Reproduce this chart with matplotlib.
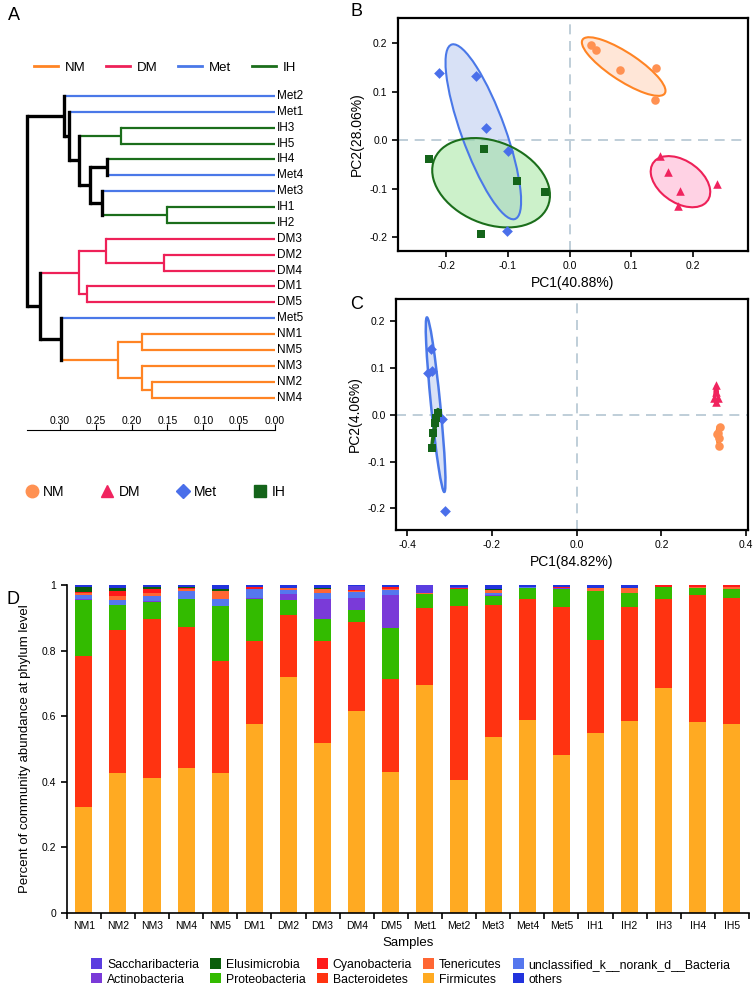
import numpy as np
import matplotlib
matplotlib.use('Agg')
import matplotlib.pyplot as plt
from matplotlib.patches import Ellipse, Patch
from matplotlib.lines import Line2D
from matplotlib.ticker import FormatStrFormatter

plt.rcParams['font.family'] = ['Liberation Sans', 'DejaVu Sans']
plt.rcParams['axes.unicode_minus'] = False

# ---- data ----
groups = ['NM', 'DM', 'Met', 'IH']
line_cols = ['#FF8424', '#EE2158', '#4A78E8', '#1B6E1B']
pt_cols = ['#FF9152', '#F0245F', '#4A6FEA', '#14641A']
fill_cols = ['#FFC9A8', '#FF9CC4', '#A9BEEC', '#8FE08A']
markers = ['o', '^', 'D', 's']

# hierarchical clustering tree: [height, left, right]
tree = [0.346,
        [0.294, 'Met2', [0.288, 'Met1',
                         [0.273, [0.215, 'IH3', 'IH5'],
                          [0.258, [0.235, 'IH4', 'Met4'],
                           [0.242, 'Met3', [0.150, 'IH1', 'IH2']]]]]],
        [0.328,
         [0.274, [0.236, 'DM3', [0.155, 'DM2', 'DM4']], [0.262, 'DM1', 'DM5']],
         [0.298, 'Met5', [0.219, [0.185, 'NM1', 'NM5'],
                          [0.185, 'NM3', [0.171, 'NM2', 'NM4']]]]]]

samples = ['NM1', 'NM2', 'NM3', 'NM4', 'NM5', 'DM1', 'DM2', 'DM3', 'DM4', 'DM5',
           'Met1', 'Met2', 'Met3', 'Met4', 'Met5', 'IH1', 'IH2', 'IH3', 'IH4', 'IH5']
sample_group = [0] * 5 + [1] * 5 + [2] * 5 + [3] * 5

# PCoA / PCA scores
b_pc1 = [0.035, 0.043, 0.082, 0.140, 0.138, 0.146, 0.159, 0.179, 0.175, 0.239,
         -0.211, -0.151, -0.135, -0.100, -0.102, -0.228, -0.139, -0.085, -0.040, -0.144]
b_pc2 = [0.197, 0.186, 0.144, 0.150, 0.083, -0.032, -0.065, -0.104, -0.135, -0.090,
         0.139, 0.132, 0.026, -0.022, -0.187, -0.039, -0.017, -0.083, -0.106, -0.192]
c_pc1 = [0.337, 0.333, 0.336, 0.336, 0.330, 0.329, 0.329, 0.325, 0.333, 0.329,
         -0.343, -0.351, -0.340, -0.318, -0.311, -0.327, -0.333, -0.339, -0.341, -0.331]
c_pc2 = [-0.025, -0.039, -0.050, -0.066, -0.040, 0.064, 0.050, 0.036, 0.036, 0.028,
         0.142, 0.089, 0.093, -0.009, -0.205, 0.005, -0.018, -0.039, -0.070, -0.007]

# phylum abundance (bottom to top)
firmicutes = [0.324, 0.426, 0.412, 0.442, 0.426, 0.575, 0.720, 0.519, 0.617, 0.430,
              0.695, 0.405, 0.537, 0.588, 0.481, 0.548, 0.585, 0.687, 0.583, 0.575]
bacteroidetes = [0.460, 0.436, 0.484, 0.429, 0.344, 0.255, 0.188, 0.310, 0.270, 0.285,
                 0.234, 0.532, 0.403, 0.370, 0.453, 0.286, 0.349, 0.270, 0.388, 0.387]
proteobacteria = [0.171, 0.077, 0.054, 0.086, 0.165, 0.127, 0.047, 0.067, 0.038, 0.155,
                  0.044, 0.050, 0.027, 0.032, 0.053, 0.148, 0.043, 0.036, 0.019, 0.025]
actinobacteria = [0.003, 0, 0.002, 0.001, 0, 0.004, 0.017, 0.063, 0.035, 0.100,
                  0, 0, 0.002, 0, 0.003, 0, 0, 0, 0, 0]
unclassified = [0.012, 0.015, 0.015, 0.024, 0.022, 0.028, 0.013, 0.017, 0.018, 0.014,
                0, 0, 0.006, 0.005, 0, 0, 0, 0, 0, 0]
tenericutes = [0.005, 0.013, 0.010, 0.005, 0.026, 0, 0.005, 0.011, 0.004, 0.003,
               0.004, 0, 0.010, 0, 0, 0.008, 0.015, 0, 0.003, 0.008]
cyanobacteria = [0.005, 0.016, 0.010, 0.003, 0, 0.007, 0, 0, 0.003, 0.006,
                 0, 0.003, 0, 0, 0.005, 0, 0, 0.007, 0.007, 0.005]
elusimicrobia = [0.013, 0.007, 0.008, 0.005, 0.004, 0, 0, 0.005, 0, 0,
                 0, 0, 0.003, 0, 0, 0, 0, 0, 0, 0]
saccharibacteria = [0, 0, 0, 0, 0, 0, 0, 0, 0.013, 0,
                    0.023, 0.005, 0, 0, 0, 0, 0, 0, 0, 0]
others = [0.007, 0.010, 0.005, 0.005, 0.013, 0.004, 0.010, 0.008, 0.002, 0.007,
          0, 0.005, 0.012, 0.005, 0.005, 0.010, 0.008, 0, 0, 0]

layers = [('Firmicutes', firmicutes, '#FFAA22'),
          ('Bacteroidetes', bacteroidetes, '#FF3311'),
          ('Proteobacteria', proteobacteria, '#33BB00'),
          ('Actinobacteria', actinobacteria, '#7A3AD8'),
          ('unclassified_k__norank_d__Bacteria', unclassified, '#5577EE'),
          ('Tenericutes', tenericutes, '#FF6633'),
          ('Cyanobacteria', cyanobacteria, '#FF1A1A'),
          ('Elusimicrobia', elusimicrobia, '#0B5E0B'),
          ('Saccharibacteria', saccharibacteria, '#5A3DE0'),
          ('others', others, '#2233DD')]
legend_order = ['Saccharibacteria', 'Actinobacteria', 'Elusimicrobia', 'Proteobacteria',
                'Cyanobacteria', 'Bacteroidetes', 'Tenericutes', 'Firmicutes',
                'unclassified_k__norank_d__Bacteria', 'others']

W, H = 756, 986
fig = plt.figure(figsize=(W / 100, H / 100), dpi=100)


def box(x0, y0, x1, y1):
    # pixel box (top-left origin) -> figure fraction rect
    return [x0 / W, 1 - y1 / H, (x1 - x0) / W, (y1 - y0) / H]


def grp_of(name):
    return groups.index(name.rstrip('0123456789'))


# ---- A: dendrogram ----
ax = fig.add_axes(box(20, 88, 275, 405.5))
ax.set_xlim(0.3558, 0)
ax.set_ylim(19.5, -0.5)
ax.axis('off')
leaf_pos = [0]


def draw(node):
    if isinstance(node, str):
        y = leaf_pos[0]
        leaf_pos[0] += 1
        ax.text(-0.003, y, node, va='center', ha='left', fontsize=8.5)
        return y, 0.0, grp_of(node)
    h, left, right = node
    kids = [draw(left), draw(right)]
    g = kids[0][2] if kids[0][2] == kids[1][2] else None
    col = 'black' if g is None else line_cols[g]
    ax.plot([h, h], [kids[0][0], kids[1][0]], color=col,
            lw=2.4 if g is None else 1.6, solid_capstyle='projecting', zorder=3 if g is None else 2)
    for ky, kh, kg in kids:
        kc = 'black' if kg is None else line_cols[kg]
        ax.plot([h, kh], [ky, ky], color=kc, lw=2.4 if kg is None else 1.6,
                solid_capstyle='butt', zorder=3 if kg is None else 2)
    return (kids[0][0] + kids[1][0]) / 2, h, g


draw(tree)

sax = fig.add_axes(box(20, 430, 275, 430.1))
sax.set_xlim(0.3558, 0)
sax.set_yticks([])
for s in ['top', 'left', 'right']:
    sax.spines[s].set_visible(False)
sax.spines['bottom'].set_bounds(0, 0.346)
sax.set_xticks(np.arange(0, 0.31, 0.05))
sax.xaxis.set_major_formatter(FormatStrFormatter('%.2f'))
sax.tick_params(axis='x', direction='in', length=4, labeltop=True, labelbottom=False,
                top=False, bottom=True, pad=3, labelsize=7.5)

line_handles = [Line2D([], [], color=c, lw=2) for c in line_cols]
fig.legend(line_handles, groups, loc='center', bbox_to_anchor=(165 / W, 1 - 68 / H),
           ncol=4, frameon=False, fontsize=9.5, handlelength=1.8, columnspacing=1.6,
           handletextpad=0.5)

mk_handles = [Line2D([], [], color=pt_cols[i], marker=markers[i], ls='none',
                     markersize=9 if i != 2 else 7) for i in range(4)]
fig.legend(mk_handles, groups, loc='center', bbox_to_anchor=(155 / W, 1 - 492 / H),
           ncol=4, frameon=False, fontsize=10, handlelength=1.0, columnspacing=2.6,
           handletextpad=0.3)


# ---- B, C: ordination plots ----
def add_ellipse(a, x, y, i, k=1.35, lw=1.5):
    x = np.asarray(x)
    y = np.asarray(y)
    cov = np.cov(x, y)
    vals, vecs = np.linalg.eigh(cov)
    order = vals.argsort()[::-1]
    vals, vecs = vals[order], vecs[:, order]
    ang = np.degrees(np.arctan2(vecs[1, 0], vecs[0, 0]))
    w, h = 2 * k * np.sqrt(vals)
    a.add_patch(Ellipse((x.mean(), y.mean()), w, h, angle=ang, facecolor=fill_cols[i],
                        alpha=0.45, edgecolor='none', zorder=1))
    a.add_patch(Ellipse((x.mean(), y.mean()), w, h, angle=ang, facecolor='none',
                        edgecolor=line_cols[i], lw=lw, zorder=2))


def ordination(rect, pc1, pc2, xlim, ylim, xticks, yticks, xlab, ylab, lw):
    a = fig.add_axes(rect)
    a.axhline(0, color='#B4C6D2', ls=(0, (6, 4)), lw=1.2, zorder=0)
    a.axvline(0, color='#B4C6D2', ls=(0, (6, 4)), lw=1.2, zorder=0)
    pc1 = np.asarray(pc1)
    pc2 = np.asarray(pc2)
    gidx = np.asarray(sample_group)
    for i in range(4):
        m = gidx == i
        add_ellipse(a, pc1[m], pc2[m], i, lw=lw)
    for i in range(4):
        m = gidx == i
        a.scatter(pc1[m], pc2[m], marker=markers[i], color=pt_cols[i],
                  s=38 if i != 2 else 30, zorder=4, linewidths=0)
    a.set_xlim(xlim)
    a.set_ylim(ylim)
    a.set_xticks(xticks)
    a.set_yticks(yticks)
    a.xaxis.set_major_formatter(FormatStrFormatter('%.1f'))
    a.yaxis.set_major_formatter(FormatStrFormatter('%.1f'))
    for s in a.spines.values():
        s.set_linewidth(1.6)
    a.tick_params(direction='out', length=4, width=1.2, labelsize=7.5)
    a.set_xlabel(xlab, fontsize=10, labelpad=3)
    a.set_ylabel(ylab, fontsize=10, labelpad=4)
    return a


axb = ordination(box(398, 18, 748, 251), b_pc1, b_pc2, (-0.278, 0.289), (-0.228, 0.252),
                 [-0.2, -0.1, 0.0, 0.1, 0.2], [-0.2, -0.1, 0.0, 0.1, 0.2],
                 'PC1(40.88%)', 'PC2(28.06%)', 1.5)
axc = ordination(box(396, 299, 748, 530), c_pc1, c_pc2, (-0.426, 0.404), (-0.246, 0.248),
                 [-0.4, -0.2, 0.0, 0.2, 0.4], [-0.2, -0.1, 0.0, 0.1, 0.2],
                 'PC1(84.82%)', 'PC2(4.06%)', 1.8)

# ---- D: stacked bars ----
axd = fig.add_axes(box(66.7, 585.2, 749, 912.7))
x = np.arange(len(samples))
bottom = np.zeros(len(samples))
handles = {}
for name, vals, col in layers:
    vals = np.asarray(vals)
    axd.bar(x, vals, 0.5, bottom=bottom, color=col, linewidth=0)
    bottom += vals
    handles[name] = Patch(facecolor=col)
axd.set_xlim(-0.5, len(samples) - 0.5)
axd.set_ylim(0, 1)
for s in ['top', 'right']:
    axd.spines[s].set_visible(False)
axd.spines['left'].set_linewidth(1.2)
axd.spines['bottom'].set_linewidth(1.2)
axd.set_yticks([0, 0.2, 0.4, 0.6, 0.8, 1.0])
axd.set_yticklabels(['0', '0.2', '0.4', '0.6', '0.8', '1'])
axd.set_xticks(x)
axd.set_xticklabels(samples)
axd.set_xticks(np.arange(-0.5, len(samples)), minor=True)
axd.tick_params(axis='x', which='major', length=0, labelsize=7.5, pad=6)
axd.tick_params(axis='x', which='minor', length=4, width=1.2)
axd.tick_params(axis='y', length=4, width=1.2, labelsize=7.5)
axd.set_ylabel('Percent of community abundance at phylum level', fontsize=9.5, labelpad=8)
axd.set_xlabel('Samples', fontsize=9.5, labelpad=4)

fig.legend([handles[n] for n in legend_order], legend_order, loc='center',
           bbox_to_anchor=(411 / W, 1 - 972 / H), ncol=5, frameon=False, fontsize=8.8,
           handlelength=0.9, handleheight=0.9, columnspacing=0.9, handletextpad=0.4,
           labelspacing=0.2)

# panel letters
for lab, px, py in [('A', 8, 15), ('B', 350, 12), ('C', 350, 305), ('D', 6, 600)]:
    fig.text(px / W, 1 - py / H, lab, fontsize=13, va='center', ha='left')

fig.savefig('out.png', dpi=100)
